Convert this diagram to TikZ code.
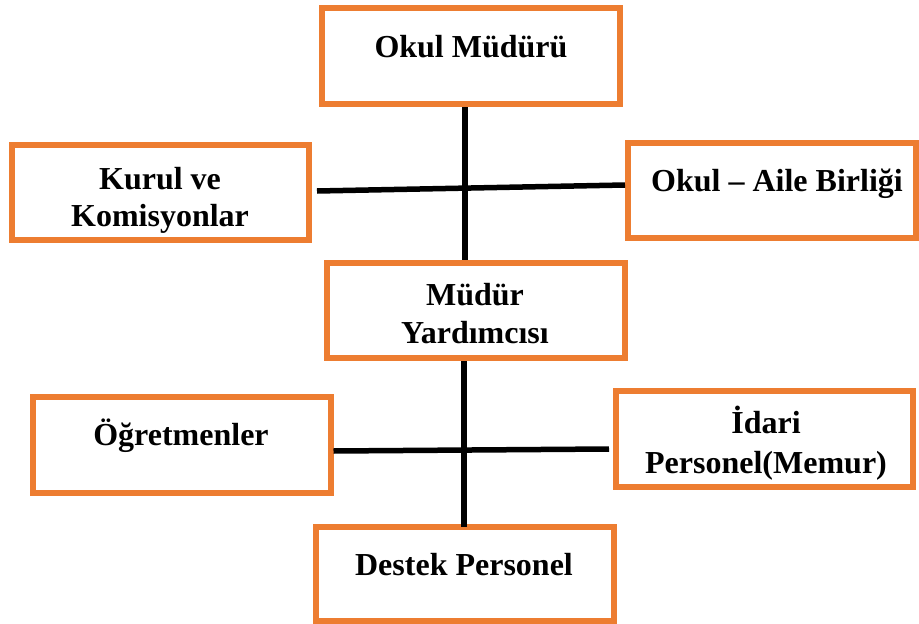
\documentclass[tikz,border=0pt]{standalone}
\usepackage{fontspec}
\setmainfont{Liberation Serif}
\definecolor{boxorange}{HTML}{ED7D31}
\begin{document}
\begin{tikzpicture}[x=1pt,y=-1pt,
  orgbox/.style={draw=boxorange,line width=6pt,fill=white,inner sep=0pt,minimum width=#1},
  lbl/.style={anchor=base,inner sep=0pt,font=\fontsize{32}{38}\selectfont\bfseries},
  link/.style={draw=black,line width=5.5pt}]
\useasboundingbox (0,0) rectangle (919,624);
% boxes
\node[orgbox=298pt,minimum height=96pt] (b1) at (471,56) {};
\node[orgbox=297pt,minimum height=95pt] (b2) at (160.5,192) {};
\node[orgbox=288pt,minimum height=95pt] (b3) at (772,190.5) {};
\node[orgbox=297.5pt,minimum height=95pt] (b4) at (475.75,310.5) {};
\node[orgbox=298pt,minimum height=96pt] (b5) at (181.5,445) {};
\node[orgbox=297pt,minimum height=96pt] (b6) at (764.5,439) {};
\node[orgbox=298pt,minimum height=93.5pt] (b7) at (464.5,573.75) {};
% texts
\node[lbl] (t1) at (471,57) {Okul Müdürü};
\node[lbl] (t2a) at (160,189) {Kurul ve};
\node[lbl] (t2b) at (160,226) {Komisyonlar};
\node[lbl] (t3) at (777,191) {Okul – Aile Birliği};
\node[lbl] (t4a) at (475,305) {Müdür};
\node[lbl] (t4b) at (475,343) {Yardımcısı};
\node[lbl] (t5) at (181,445) {Öğretmenler};
\node[lbl] (t6a) at (766,433) {İdari};
\node[lbl] (t6b) at (766,473) {Personel(Memur)};
\node[lbl] (t7) at (464,575) {Destek Personel};
% junctions
\coordinate (j1) at (465,188);
\coordinate (j2) at (464,450);
\coordinate (l1) at (317,191);
% connectors
\draw[link] (b1.south -| j1) -- (b4.north -| j1);
\draw[link] (l1) -- ([yshift=5.5pt]b3.west);
\draw[link] (b4.south -| j2) -- ([yshift=-3pt]b7.north -| j2);
\draw[link] ([yshift=-6pt]b5.east) -- ([xshift=-4pt,yshift=-10pt]b6.west);
\end{tikzpicture}
\end{document}
